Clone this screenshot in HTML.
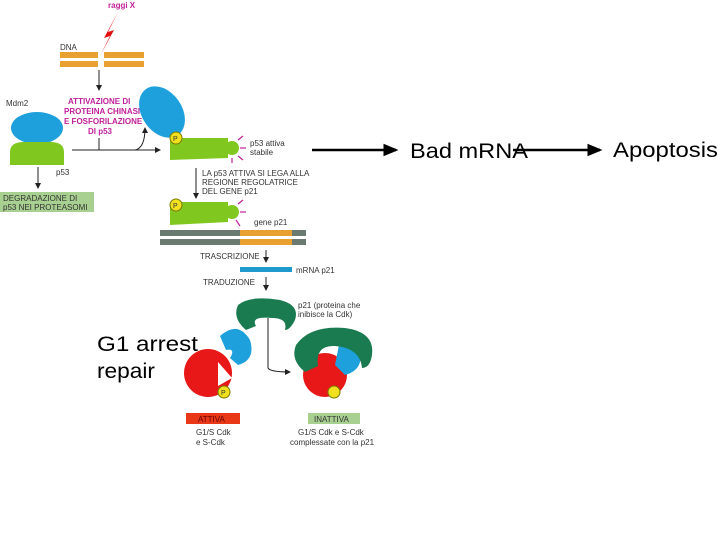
<!DOCTYPE html>
<html><head><meta charset="utf-8"><style>
html,body{margin:0;padding:0;background:#fff;width:720px;height:540px;overflow:hidden}
svg{display:block}
.s{font-family:"Liberation Sans",sans-serif;font-size:8px;fill:#333}
.m{font-family:"Liberation Sans",sans-serif;font-size:8px;fill:#c0209a;font-weight:bold}
.b{font-family:"Liberation Sans",sans-serif;font-size:21px;fill:#000}
</style></head><body>
<svg width="720" height="540" viewBox="0 0 720 540">
<defs><marker id="a" markerWidth="6" markerHeight="6" refX="5" refY="3" orient="auto"><path d="M0,0.5 L6,3 L0,5.5z" fill="#000"/></marker>
<marker id="as" markerWidth="6" markerHeight="6" refX="5" refY="3" orient="auto"><path d="M0,0 L6,3 L0,6z" fill="#222"/></marker></defs>
<text x="108" y="8" class="m" style="fill:#c0209a">raggi X</text>
<path d="M118,12 L104,38 L110,36 L100,56 L114,30 L108,32z" fill="#e01010"/>
<text x="60" y="50" class="s">DNA</text>
<rect x="60" y="52" width="38" height="6" fill="#e8a030"/><rect x="104" y="52" width="40" height="6" fill="#e8a030"/>
<rect x="60" y="61" width="38" height="6" fill="#e8a030"/><rect x="104" y="61" width="40" height="6" fill="#e8a030"/>
<line x1="99" y1="70" x2="99" y2="90" stroke="#222" marker-end="url(#as)"/>
<text x="68" y="104" class="m">ATTIVAZIONE DI</text>
<text x="64" y="114" class="m">PROTEINA CHINASI</text>
<text x="64" y="124" class="m">E FOSFORILAZIONE</text>
<text x="88" y="134" class="m">DI p53</text>
<line x1="99" y1="138" x2="99" y2="150" stroke="#222"/>
<text x="6" y="106" class="s">Mdm2</text>
<ellipse cx="37" cy="128" rx="26" ry="16" fill="#1ea0dc"/>
<path d="M10,165 L10,152 Q10,142 24,142 L50,142 Q64,142 64,152 L64,165z" fill="#80c820"/>
<text x="56" y="175" class="s">p53</text>
<line x1="38" y1="167" x2="38" y2="188" stroke="#222" marker-end="url(#as)"/>
<rect x="0" y="192" width="94" height="20" fill="#a8d090"/>
<text x="3" y="201" class="s">DEGRADAZIONE DI</text><text x="3" y="210" class="s">p53 NEI PROTEASOMI</text>
<line x1="72" y1="150" x2="160" y2="150" stroke="#222" marker-end="url(#as)"/>
<path d="M135,150 Q145,148 145,128" stroke="#222" fill="none" marker-end="url(#as)"/>
<ellipse cx="162" cy="112" rx="20" ry="28" transform="rotate(-35 162 112)" fill="#1ea0dc"/>
<path d="M170,160 L170,138 L228,138 L228,158z" fill="#80c820"/><circle cx="232" cy="148" r="7" fill="#80c820"/>
<circle cx="176" cy="138" r="6" fill="#f0e020" stroke="#7a7a00"/><text x="173" y="141" class="s" style="font-size:7px">P</text>
<g stroke="#c0209a" stroke-width="1.2"><line x1="238" y1="140" x2="243" y2="136"/><line x1="240" y1="148" x2="246" y2="148"/><line x1="238" y1="156" x2="243" y2="160"/><line x1="232" y1="158" x2="232" y2="163"/></g>
<text x="250" y="146" class="s">p53 attiva</text><text x="250" y="155" class="s">stabile</text>
<line x1="196" y1="168" x2="196" y2="198" stroke="#222" marker-end="url(#as)"/>
<text x="202" y="176" class="s">LA p53 ATTIVA SI LEGA ALLA</text><text x="202" y="185" class="s">REGIONE REGOLATRICE</text><text x="202" y="194" class="s">DEL GENE p21</text>
<path d="M170,225 L170,202 L228,202 L228,222z" fill="#80c820"/><circle cx="232" cy="212" r="7" fill="#80c820"/>
<circle cx="176" cy="205" r="6" fill="#f0e020" stroke="#7a7a00"/><text x="173" y="208" class="s" style="font-size:7px">P</text>
<g stroke="#c0209a" stroke-width="1.2"><line x1="238" y1="204" x2="243" y2="200"/><line x1="240" y1="212" x2="246" y2="212"/><line x1="236" y1="220" x2="240" y2="226"/></g>
<text x="254" y="225" class="s">gene p21</text>
<rect x="160" y="230" width="146" height="6" fill="#6a7a70"/><rect x="240" y="230" width="52" height="6" fill="#e8a030"/>
<rect x="160" y="239" width="146" height="6" fill="#6a7a70"/><rect x="240" y="239" width="52" height="6" fill="#e8a030"/>
<text x="200" y="259" class="s">TRASCRIZIONE</text><line x1="266" y1="250" x2="266" y2="262" stroke="#222" marker-end="url(#as)"/>
<rect x="240" y="267" width="52" height="5" fill="#1e9acc"/><text x="296" y="273" class="s">mRNA p21</text>
<text x="203" y="285" class="s">TRADUZIONE</text><line x1="266" y1="277" x2="266" y2="290" stroke="#222" marker-end="url(#as)"/>
<path d="M238,305 Q250,295 280,300 Q300,305 295,320 Q290,330 285,330 Q288,318 272,318 Q250,316 256,326 L246,330 Q232,318 238,305z" fill="#1a7a50"/>
<text x="298" y="308" class="s">p21 (proteina che</text><text x="298" y="317" class="s">inibisce la Cdk)</text>
<path d="M268,318 L268,368 Q270,372 290,372" stroke="#222" fill="none" marker-end="url(#as)"/>
<circle cx="208" cy="373" r="24" fill="#e81818"/><path d="M218,362 L232,378 L218,386z" fill="#fff"/>
<path d="M220,336 Q238,320 250,340 Q256,360 238,365 L230,358 Q236,348 226,350z" fill="#1ea0dc"/>
<circle cx="224" cy="392" r="6" fill="#f0e020" stroke="#7a7a00"/><text x="221" y="395" class="s" style="font-size:7px">P</text>
<rect x="186" y="413" width="54" height="11" fill="#e83818"/><text x="198" y="422" class="s" style="fill:#600">ATTIVA</text>
<text x="196" y="435" class="s">G1/S Cdk</text><text x="196" y="445" class="s">e S-Cdk</text>
<circle cx="325" cy="375" r="22" fill="#e81818"/>
<path d="M340,340 Q358,330 360,350 Q364,370 345,375 L335,365z" fill="#1ea0dc"/>
<path d="M296,345 Q310,325 345,328 Q375,332 372,355 Q370,368 362,368 Q360,348 335,346 Q315,345 318,366 L305,372 Q290,360 296,345z" fill="#1a7a50"/>
<circle cx="334" cy="392" r="6" fill="#f0e020" stroke="#7a7a00"/>
<rect x="308" y="413" width="52" height="11" fill="#a8d090"/><text x="314" y="422" class="s">INATTIVA</text>
<text x="298" y="435" class="s">G1/S Cdk e S-Cdk</text><text x="290" y="445" class="s">complessate con la p21</text>
<text x="97" y="351" class="b" textLength="101" lengthAdjust="spacingAndGlyphs">G1 arrest</text><text x="97" y="378" class="b" textLength="58" lengthAdjust="spacingAndGlyphs">repair</text>
<line x1="312" y1="150" x2="396" y2="150" stroke="#000" stroke-width="2.5" marker-end="url(#a)"/>
<text x="410" y="158" class="b" textLength="118" lengthAdjust="spacingAndGlyphs">Bad mRNA</text>
<line x1="513" y1="150" x2="600" y2="150" stroke="#000" stroke-width="2.5" marker-end="url(#a)"/>
<text x="613" y="157" class="b" textLength="105" lengthAdjust="spacingAndGlyphs">Apoptosis</text>
</svg>
</body></html>
